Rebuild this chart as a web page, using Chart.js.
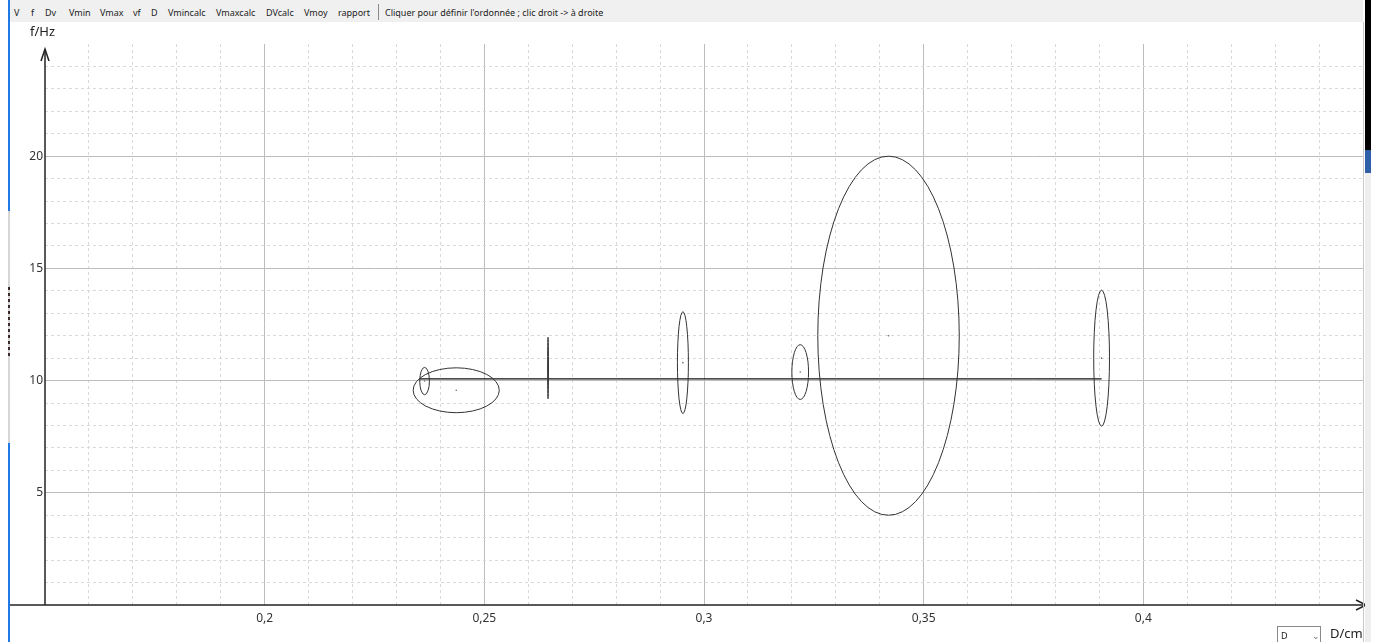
<!DOCTYPE html>
<html>
<head>
<meta charset="utf-8">
<script src="https://cdn.jsdelivr.net/npm/chart.js@4.4.0/dist/chart.umd.min.js"></script>
<style>
html, body { margin: 0; padding: 0; background: #fff; overflow: hidden; }
body { width: 1375px; height: 642px; position: relative; font-family: "Noto Sans", sans-serif; }
#wrap { position: absolute; left: 0; top: 0; width: 1375px; height: 642px; }
#bar { position: absolute; left: 10px; top: 0; width: 1353px; height: 22px; background: #f0f0f0; }
.it { position: absolute; top: 7px; font-size: 9px; color: #222; white-space: nowrap; line-height: 11px; }
#sep { position: absolute; left: 378px; top: 4px; width: 1px; height: 16px; background: #888; }
#fhz { position: absolute; left: 30px; top: 22px; font-size: 13px; color: #222; }
#dcm { position: absolute; left: 1330px; top: 624px; font-size: 13px; color: #222; }
#sel { position: absolute; left: 1277px; top: 626px; width: 44px; height: 16px; border: 1px solid #8a8a8a; border-bottom: none; box-sizing: border-box; font-size: 9px; color: #222; }
#sel span { position: absolute; left: 3px; top: 2px; }
#sel i { position: absolute; left: 34px; top: 2px; font-style: normal; font-size: 9px; color: #777; }
.strip { position: absolute; }
</style>
</head>
<body>
<div id="wrap"><canvas id="chart" width="1375" height="642"></canvas></div>

<div id="bar"></div>
<span class="it" style="left:14px">V</span>
<span class="it" style="left:31px">f</span>
<span class="it" style="left:45px">Dv</span>
<span class="it" style="left:69px">Vmin</span>
<span class="it" style="left:100px">Vmax</span>
<span class="it" style="left:133px">vf</span>
<span class="it" style="left:151px">D</span>
<span class="it" style="left:168px">Vmincalc</span>
<span class="it" style="left:216px">Vmaxcalc</span>
<span class="it" style="left:266px">DVcalc</span>
<span class="it" style="left:304px">Vmoy</span>
<span class="it" style="left:338px">rapport</span>
<div id="sep"></div>
<span class="it" style="left:385px">Cliquer pour définir l'ordonnée ; clic droit -> à droite</span>

<div id="fhz">f/Hz</div>
<div id="sel"><span>D</span><i>&#8964;</i></div>
<div id="dcm">D/cm</div>

<!-- left window edge -->
<div class="strip" style="left:8px;top:0;width:2px;height:211px;background:#1f7ae6"></div>
<div class="strip" style="left:8px;top:211px;width:2px;height:232px;background:#d6d6d6"></div>
<div class="strip" style="left:8px;top:287px;width:2px;height:70px;background:repeating-linear-gradient(#3a2a2a 0 3px, transparent 3px 6px)"></div>
<div class="strip" style="left:8px;top:443px;width:2px;height:199px;background:#1f7ae6"></div>
<!-- right window edge -->
<div class="strip" style="left:1363px;top:22px;width:1px;height:620px;background:#c8c8c8"></div>
<div class="strip" style="left:1365px;top:0;width:6px;height:150px;background:#000"></div>
<div class="strip" style="left:1365px;top:150px;width:6px;height:23px;background:#2f5fa8"></div>
<div class="strip" style="left:1365px;top:173px;width:6px;height:469px;background:#eeeeee"></div>

<script>
// ellipses: centre D (cm), centre f (Hz), half-width in D, half-height in f
const ellipseD = [0.2364, 0.2436, 0.2645, 0.2952, 0.3219, 0.3420, 0.3905];
const ellipseF = [9.98, 9.57, 10.56, 10.80, 10.38, 12.0, 11.0];
const ellipseDr = [0.0011, 0.0098, 0.0001, 0.00125, 0.0019, 0.0161, 0.0018];
const ellipseFr = [0.61, 1.0, 1.37, 2.27, 1.22, 8.0, 3.03];

// horizontal line
const lineD = [0.2352, 0.3905];
const lineF = [10.08, 10.08];

// labelled ticks
const xTicks = [0.2, 0.25, 0.3, 0.35, 0.4];
const yTicks = [5, 10, 15, 20];

const ellipsePlugin = {
    id: 'ellipses',
    afterDatasetsDraw(chart) {
        const ctx = chart.ctx;
        const xs = chart.scales.x, ys = chart.scales.y;
        ctx.save();
        ctx.strokeStyle = '#333';
        ctx.lineWidth = 1;
        for (let i = 0; i < ellipseD.length; i++) {
            const cx = xs.getPixelForValue(ellipseD[i]);
            const cy = ys.getPixelForValue(ellipseF[i]);
            const rx = Math.abs(xs.getPixelForValue(ellipseD[i] + ellipseDr[i]) - cx);
            const ry = Math.abs(ys.getPixelForValue(ellipseF[i] + ellipseFr[i]) - cy);
            ctx.beginPath();
            ctx.ellipse(cx, cy, rx, ry, 0, 0, Math.PI * 2);
            ctx.stroke();
        }
        ctx.restore();
    }
};

const axesPlugin = {
    id: 'arrows',
    afterDraw(chart) {
        const ctx = chart.ctx;
        const a = chart.chartArea;
        ctx.save();
        ctx.strokeStyle = '#222';
        ctx.lineWidth = 1.5;
        // y axis
        ctx.beginPath();
        ctx.moveTo(a.left, a.bottom);
        ctx.lineTo(a.left, a.top + 5);
        ctx.stroke();
        ctx.beginPath();
        ctx.moveTo(a.left - 4, a.top + 17);
        ctx.lineTo(a.left, a.top + 5);
        ctx.lineTo(a.left + 4, a.top + 17);
        ctx.stroke();
        // x axis
        ctx.beginPath();
        ctx.moveTo(10, a.bottom);
        ctx.lineTo(a.right + 3, a.bottom);
        ctx.stroke();
        ctx.beginPath();
        ctx.moveTo(a.right - 7, a.bottom - 5);
        ctx.lineTo(a.right + 3, a.bottom);
        ctx.lineTo(a.right - 7, a.bottom + 5);
        ctx.stroke();
        ctx.restore();
    }
};

function xKey(v) { return Math.round(v * 100); }

new Chart(document.getElementById('chart'), {
    type: 'scatter',
    data: {
        datasets: [{
            type: 'line',
            data: lineD.map((d, i) => ({ x: d, y: lineF[i] })),
            borderColor: '#111',
            borderWidth: 1.2,
            pointRadius: 0,
            fill: false
        }, {
            data: ellipseD.map((d, i) => ({ x: d, y: ellipseF[i] })),
            pointRadius: 0.8,
            pointBorderWidth: 0,
            backgroundColor: '#666'
        }]
    },
    options: {
        responsive: false,
        animation: false,
        layout: { padding: { top: 44, right: 12, left: 0, bottom: 0 } },
        plugins: { legend: { display: false }, tooltip: { enabled: false } },
        scales: {
            x: {
                type: 'linear',
                min: 0.15,
                max: 0.45,
                afterFit(scale) { scale.height = 37; },
                ticks: {
                    stepSize: 0.01,
                    autoSkip: false,
                    maxRotation: 0,
                    padding: 6,
                    color: '#333',
                    font: { family: 'Noto Sans', size: 12 },
                    callback(v) {
                        const k = xKey(v);
                        return xTicks.some(t => xKey(t) === k) ? String(k / 100).replace('.', ',') : '';
                    }
                },
                grid: {
                    drawTicks: false,
                    color(c) {
                        const k = xKey(c.tick.value);
                        if (k === 15 || k === 45) return 'rgba(0,0,0,0)';
                        return k % 5 === 0 ? '#bdbdbd' : '#d9d9d9';
                    }
                },
                border: {
                    display: false,
                    dash(c) {
                        if (!c.tick) return [];
                        return xKey(c.tick.value) % 5 === 0 ? [] : [3, 3];
                    }
                }
            },
            y: {
                min: 0,
                max: 25,
                afterFit(scale) { scale.width = 45; },
                ticks: {
                    stepSize: 1,
                    autoSkip: false,
                    padding: 2,
                    color: '#333',
                    font: { family: 'Noto Sans', size: 12 },
                    callback(v) { return yTicks.includes(Math.round(v)) ? String(Math.round(v)) : ''; }
                },
                grid: {
                    drawTicks: false,
                    color(c) {
                        const v = Math.round(c.tick.value);
                        if (v === 0 || v === 25) return 'rgba(0,0,0,0)';
                        return v % 5 === 0 ? '#bdbdbd' : '#d9d9d9';
                    }
                },
                border: {
                    display: false,
                    dash(c) {
                        if (!c.tick) return [];
                        return Math.round(c.tick.value) % 5 === 0 ? [] : [3, 3];
                    }
                }
            }
        }
    },
    plugins: [ellipsePlugin, axesPlugin]
});
</script>
</body>
</html>
